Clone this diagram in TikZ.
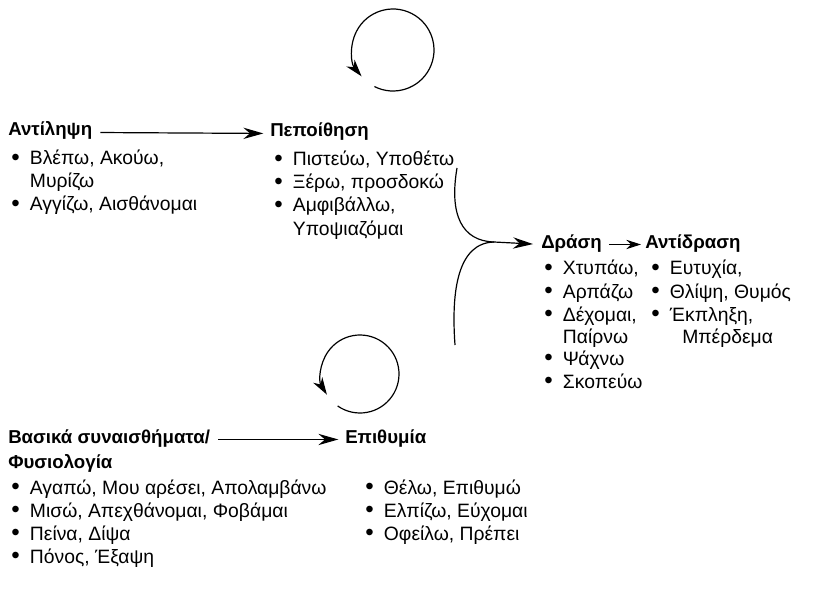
\documentclass[tikz,border=0pt]{standalone}
\usepackage{fontspec}
\setmainfont{Liberation Sans}
\usetikzlibrary{arrows.meta,calc}
\newcommand\bl{\makebox[14pt][l]{\raisebox{-0.3pt}{\scalebox{1.25}{\textbullet}}}}
\begin{document}
\begin{tikzpicture}[x=0.75pt,y=-0.75pt,
  txt/.style={anchor=base west,inner sep=0pt,font=\fontsize{14.5}{17}\selectfont},
  hd/.style={anchor=base west,inner sep=0pt,font=\fontsize{14}{17}\selectfont\bfseries},
  arr/.style={-{Stealth[length=15pt,width=8.5pt,inset=5pt]},line width=0.9pt},
  sarr/.style={-{Stealth[length=11pt,width=7pt,inset=3.5pt]},line width=0.9pt},
  larr/.style={-{Stealth[length=13pt,width=8pt,inset=4pt]},line width=0.9pt},
  ln/.style={line width=0.9pt}]
\useasboundingbox (0,0) rectangle (819,592);
% top left group
\node[hd] (ant) at (8,136) {Αντίληψη};
\node[txt] (ant1) at (11,165) {\bl Βλέπω, Ακούω,};
\node[txt] (ant1b) at (29.7,188) {Μυρίζω};
\node[txt] (ant2) at (11,211) {\bl Αγγίζω, Αισθάνομαι};
% pepoithisi
\node[hd] (pep) at (270,137) {Πεποίθηση};
\node[txt] (pep1) at (274,166) {\bl Πιστεύω, Υποθέτω};
\node[txt] (pep2) at (274,189) {\bl Ξέρω, προσδοκώ};
\node[txt] (pep3) at (274,212) {\bl Αμφιβάλλω,};
\node[txt] (pep3b) at (292.7,235) {Υποψιαζόμαι};
% drasi
\node[hd] (dra) at (541,248) {Δράση};
\node[txt] (dra1) at (544,275) {\bl Χτυπάω,};
\node[txt] (dra2) at (544,298) {\bl Αρπάζω};
\node[txt] (dra3) at (544,321) {\bl Δέχομαι,};
\node[txt] (dra3b) at (562.7,343) {Παίρνω};
\node[txt] (dra4) at (544,365.5) {\bl Ψάχνω};
\node[txt] (dra5) at (544,388) {\bl Σκοπεύω};
% antidrasi
\node[hd] (antd) at (645,248) {Αντίδραση};
\node[txt] (antd1) at (651,275) {\bl Ευτυχία,};
\node[txt] (antd2) at (651,298) {\bl Θλίψη, Θυμός};
\node[txt] (antd3) at (651,321) {\bl Έκπληξη,};
\node[txt] (antd3b) at (682,343) {Μπέρδεμα};
% basika
\node[hd] (bas) at (8,443) {Βασικά συναισθήματα/};
\node[hd] (bas0) at (8,468) {Φυσιολογία};
\node[txt] (bas1) at (11,494) {\bl Αγαπώ, Μου αρέσει, Απολαμβάνω};
\node[txt] (bas2) at (11,517) {\bl Μισώ, Απεχθάνομαι, Φοβάμαι};
\node[txt] (bas3) at (11,540) {\bl Πείνα, Δίψα};
\node[txt] (bas4) at (11,563) {\bl Πόνος, Έξαψη};
% epithymia
\node[hd] (epi) at (345,443) {Επιθυμία};
\node[txt] (epi1) at (365,494) {\bl Θέλω, Επιθυμώ};
\node[txt] (epi2) at (365,517) {\bl Ελπίζω, Εύχομαι};
\node[txt] (epi3) at (365,540) {\bl Οφείλω, Πρέπει};
% straight arrows
\draw[arr,shorten <=6pt,shorten >=5pt] (ant.mid east) -- (pep.mid west);
\draw[arr,shorten <=6pt,shorten >=5pt] (bas.mid east) -- (epi.mid west);
\draw[sarr,shorten <=5pt,shorten >=3pt] (dra.mid east) -- (antd.mid west);
% merging curves
\coordinate (c1) at (457,168);
\coordinate (c2) at (455,345);
\coordinate (m) at (494,242);
\draw[ln] (c1) .. controls (449,215) and (462,241) .. (m);
\draw[ln] (c2) .. controls (451,290) and (458,243) .. (m);
\draw[arr,shorten >=6pt] (m) -- (dra.mid west);
% loops
\coordinate (lc1) at (393,50);
\draw[larr] ($(lc1)+(117:41)$) arc[start angle=117,end angle=-220,radius=41];
\coordinate (lc2) at (360,374);
\draw[larr] ($(lc2)+(125:39)$) arc[start angle=125,end angle=-212,radius=39];
\end{tikzpicture}
\end{document}
